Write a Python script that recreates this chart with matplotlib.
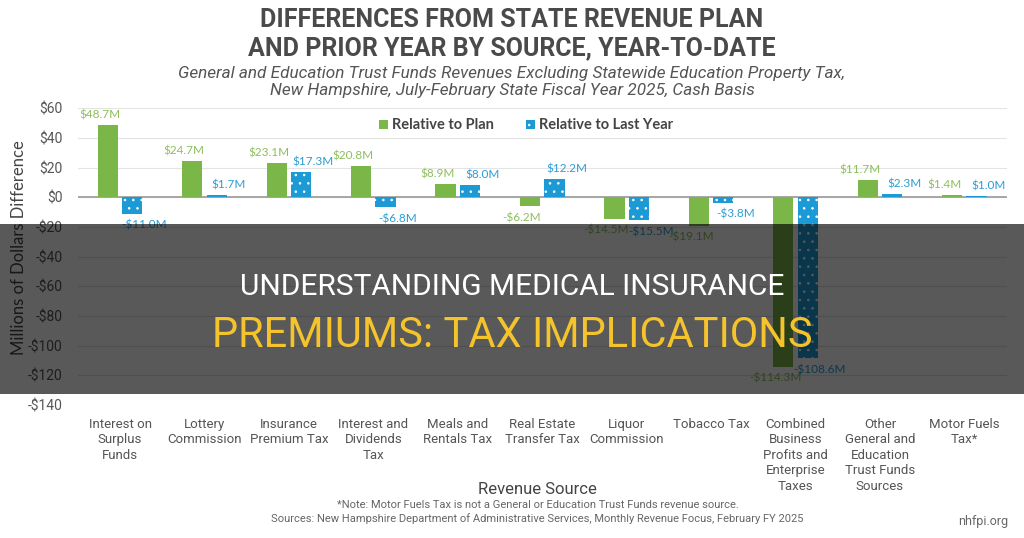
import matplotlib
matplotlib.use("Agg")
import matplotlib.pyplot as plt
import numpy as np
from matplotlib.patches import Rectangle

categories = ["Interest on\nSurplus\nFunds", "Lottery\nCommission", "Insurance\nPremium Tax",
              "Interest and\nDividends\nTax", "Meals and\nRentals Tax", "Real Estate\nTransfer Tax",
              "Liquor\nCommission", "Tobacco Tax", "Combined\nBusiness\nProfits and\nEnterprise\nTaxes",
              "Other\nGeneral and\nEducation\nTrust Funds\nSources", "Motor Fuels\nTax*"]
plan = [48.7, 24.7, 23.1, 20.8, 8.9, -6.2, -14.5, -19.1, -114.3, 11.7, 1.4]
last_year = [-11.0, 1.7, 17.3, -6.8, 8.0, 12.2, -15.5, -3.8, -108.6, 2.3, 1.0]
yticks = [60, 40, 20, 0, -20, -40, -60, -80, -100, -120, -140]

GREEN = "#7ab648"
BLUE = "#1b9ad6"
GREEN_TXT = "#8cbf5c"
BLUE_TXT = "#2a9dd4"
GRAY = "#555555"

narrow = ["Roboto", "DejaVu Sans"]
sans = ["Lato", "DejaVu Sans"]

plt.rcParams["hatch.linewidth"] = 0.6

fig = plt.figure(figsize=(10.24, 5.38), dpi=100)
ax = fig.add_axes([0.076, 0.247, 0.907, 0.552])

x = np.arange(len(categories))
w = 0.24
ax.bar(x - 0.145, plan, w, color=GREEN, zorder=3, label="Relative to Plan")
ax.bar(x + 0.145, last_year, w, color=BLUE, edgecolor="white", linewidth=0, hatch="..",
       zorder=3, label="Relative to Last Year")

def fmt(v):
    return ("-$%.1fM" % abs(v)) if v < 0 else ("$%.1fM" % v)

# value labels sit a little outside their bars, as in the original
for xi, v in zip(x, plan):
    ax.text(xi - 0.24, v + (3 if v >= 0 else -4), fmt(v), ha="center",
            va="bottom" if v >= 0 else "top", color=GREEN_TXT, fontsize=8.5, family=sans, zorder=4)
for xi, v in zip(x, last_year):
    ax.text(xi + 0.29, v + (3 if v >= 0 else -4), fmt(v), ha="center",
            va="bottom" if v >= 0 else "top", color=BLUE_TXT, fontsize=8.5, family=sans, zorder=4)

ax.set_xlim(-0.5, len(categories) - 0.5)
ax.set_ylim(-140, 60)
ax.set_yticks(yticks)
ax.set_yticklabels([("-$%d" % abs(t)) if t < 0 else ("$%d" % t) for t in yticks],
                   family=narrow, fontsize=10, color=GRAY)
ax.set_xticks(x)
ax.set_xticklabels(categories, family=narrow, fontsize=9.5, color=GRAY, linespacing=1.25)
ax.tick_params(length=0, pad=11)
ax.tick_params(axis="x", pad=9)
for s in ax.spines.values():
    s.set_visible(False)
ax.grid(axis="y", color="#e4e4e4", lw=0.8, zorder=0)
ax.axhline(0, color="#999999", lw=1.2, zorder=2)

fig.text(0.019, 0.54, "Millions of Dollars Difference", rotation=90, ha="center", va="center",
         fontsize=12, color="#444444", family=sans)

leg = ax.legend(loc="upper left", bbox_to_anchor=(0.31, 1.01), ncol=2, frameon=False,
                handlelength=0.6, handleheight=0.6, handletextpad=0.3, columnspacing=2.2,
                prop={"family": sans, "size": 10.5, "weight": "bold"})
for t in leg.get_texts():
    t.set_color("#444444")

fig.text(0.5, 0.962, "DIFFERENCES FROM STATE REVENUE PLAN", ha="center", va="center",
         fontsize=18, fontweight="bold", color="#4a4a4a", family=narrow)
fig.text(0.5, 0.91, "AND PRIOR YEAR BY SOURCE, YEAR-TO-DATE", ha="center", va="center",
         fontsize=18, fontweight="bold", color="#4a4a4a", family=narrow)
fig.text(0.5, 0.864, "General and Education Trust Funds Revenues Excluding Statewide Education Property Tax,",
         ha="center", va="center", fontsize=12.3, style="italic", color="#555555", family=narrow)
fig.text(0.5, 0.832, "New Hampshire, July-February State Fiscal Year 2025, Cash Basis",
         ha="center", va="center", fontsize=12.3, style="italic", color="#555555", family=narrow)

fig.text(0.525, 0.09, "Revenue Source", ha="center", va="center", fontsize=12,
         color="#444444", family=narrow)
fig.text(0.525, 0.061, "*Note: Motor Fuels Tax is not a General or Education Trust Funds revenue source.",
         ha="center", va="center", fontsize=8, color="#666666", family=narrow)
fig.text(0.525, 0.037, "Sources: New Hampshire Department of Administrative Services, Monthly Revenue Focus, February FY 2025",
         ha="center", va="center", fontsize=8, color="#666666", family=narrow)
fig.text(0.985, 0.03, "nhfpi.org", ha="right", va="center", fontsize=9, color="#666666", family=narrow)

# dark banner over the middle of the chart
fig.patches.append(Rectangle((0, 0.268), 1, 0.316, transform=fig.transFigure,
                             facecolor="black", alpha=0.65, zorder=10))
fig.text(0.5, 0.467, "UNDERSTANDING MEDICAL INSURANCE", ha="center", va="center",
         fontsize=21.5, color="white", family=narrow, zorder=11)
fig.text(0.5, 0.376, "PREMIUMS: TAX IMPLICATIONS", ha="center", va="center",
         fontsize=30, color="#f5c32c", family=narrow, zorder=11)

fig.savefig("out.png", dpi=100)
